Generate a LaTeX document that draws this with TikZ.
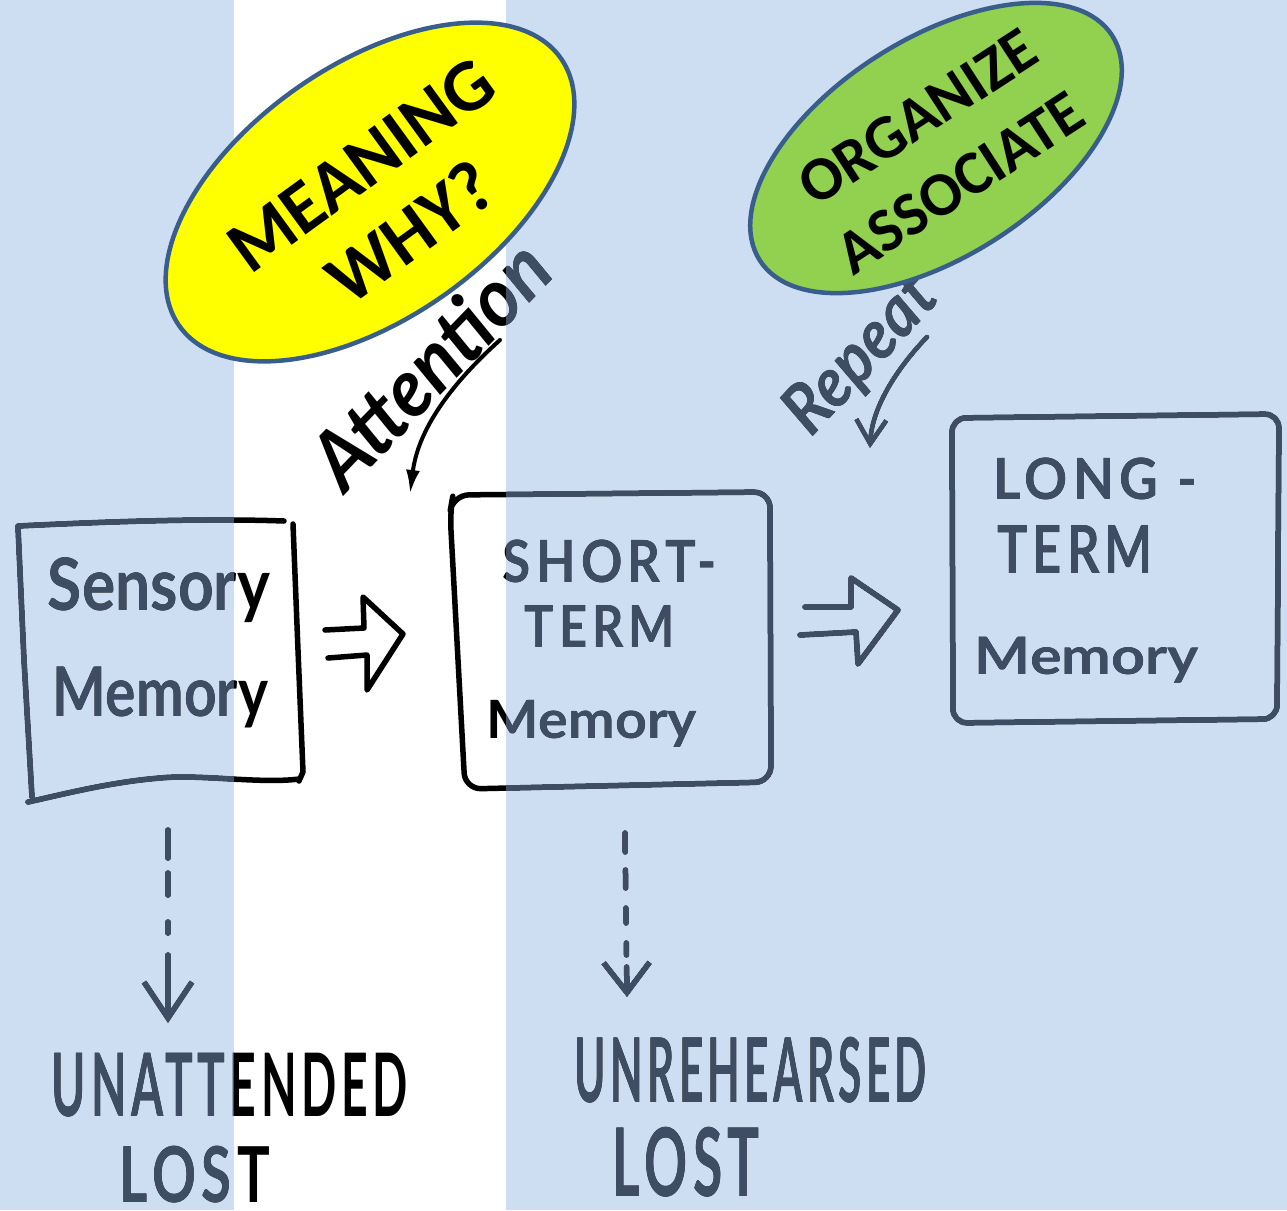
\documentclass[tikz,border=0pt]{standalone}
\usepackage{fontspec}
\usepackage{graphicx}
\usetikzlibrary{shapes.geometric,arrows.meta}
\newfontfamily\hand{Lato}
\newfontfamily\handcaps{Lato}[LetterSpace=10]
\newfontfamily\calib{Carlito}
\definecolor{bgblue}{RGB}{205,222,243}
\definecolor{ink}{RGB}{62,77,99}
\definecolor{eborder}{RGB}{58,94,140}
\definecolor{egreen}{RGB}{146,208,80}
\definecolor{eyellow}{RGB}{255,255,0}
\begin{document}
\begin{tikzpicture}[x=1pt,y=-1pt,
  inkline/.style={line width=5.5pt, line cap=round, line join=round, draw=black},
  hw/.style={inner sep=0pt, font=\hand\bfseries, text=black},
  hwcaps/.style={inner sep=0pt, font=\handcaps\bfseries, text=black},
  bubble/.style={ellipse, draw=eborder, line width=4.5pt, inner sep=0pt},
  bubbletext/.style={inner sep=0pt, align=center, text=black}]
\useasboundingbox (0,0) rectangle (1287,1210);
\fill[bgblue] (0,0) rectangle (1287,1210);
\fill[white] (234,0) rectangle (506,1210);

% ---------- Sensory memory box ----------
\draw[inkline] (18,526) .. controls (100,522) and (200,518) .. (284,521);
\draw[inkline] (293,524) -- (298,650) -- (303,772) -- (299,781);
\draw[inkline] (299,779) .. controls (260,784) and (200,774) .. (160,778)
  .. controls (110,782) and (60,795) .. (28,802);
\draw[inkline] (18,527) -- (24,660) -- (32,797);
\node[hw] (sens1) at (159,590.5) {\resizebox*{222pt}{65pt}{Sensory}};
\node[hw] (sens2) at (160.5,697.5) {\resizebox*{215pt}{61pt}{Memory}};

% ---------- hollow arrow 1 ----------
\draw[inkline] (325,630) -- (364,628) -- (363,597) -- (403,634) -- (367,690) -- (367,655) -- (328,658);

% ---------- Short-term box ----------
\draw[inkline, rounded corners=16] (450,512) -- (453,495) -- (770,492) -- (771,782) -- (465,789) -- cycle;
\node[hwcaps] (stm1) at (610,561.5) {\resizebox*{214pt}{43pt}{SHORT-}};
\node[hwcaps] (stm2) at (600,626) {\resizebox*{150pt}{42pt}{TERM}};
\node[hw] (stm3) at (592,724) {\resizebox*{210pt}{47pt}{Memory}};

% ---------- hollow arrow 2 ----------
\draw[inkline] (805,607) -- (851,607) -- (851,578) -- (898,610) -- (858,664) -- (856,632) -- (800,635);

% ---------- Long-term box ----------
\draw[inkline, rounded corners=14] (952,418) -- (1279,414) -- (1277,719) -- (953,723) -- cycle;
\node[hwcaps] (ltm1) at (1095,479) {\resizebox*{204pt}{42pt}{LONG -}};
\node[hwcaps] (ltm2) at (1075,549) {\resizebox*{156pt}{48pt}{TERM}};
\node[hw] (ltm3) at (1087,660) {\resizebox*{224pt}{46pt}{Memory}};

% ---------- Attention ----------
\node[hw, rotate=46] (att) at (430,364) {\resizebox*{305pt}{61pt}{\itshape Attention}};
\coordinate (attS) at (500,340);
\coordinate (attE) at (410,494);
\draw[inkline, line width=4pt, -{Latex[length=24pt,width=14pt]}] (attS) .. controls (450,385) and (418,430) .. (attE);

% ---------- Repeat ----------
\node[hw, rotate=47] (rep) at (862,356) {\resizebox*{190pt}{62pt}{\itshape Repeat}};
\coordinate (repS) at (927,337);
\coordinate (repE) at (870,448);
\draw[inkline, line width=4.5pt, -{Straight Barb[length=24pt,width=30pt]}] (repS) .. controls (900,365) and (872,405) .. (repE);

% ---------- lost paths ----------
\coordinate (d1s) at (168,830);
\coordinate (d1e) at (168,1023);
\draw[inkline, dash pattern=on 28pt off 15pt on 22pt off 27pt on 11pt off 22pt on 120pt,
  -{Straight Barb[length=36pt,width=48pt]}] (d1s) -- (d1e);
\node[hwcaps] (unatt) at (230,1085) {\resizebox*{356pt}{64pt}{UNATTENDED}};
\node[hwcaps] (lost1) at (195,1175) {\resizebox*{150pt}{57pt}{LOST}};

\coordinate (d2s) at (625,833);
\coordinate (d2e) at (627,997);
\draw[inkline, dash pattern=on 19pt off 18pt on 18pt off 20pt on 15pt off 20pt on 12pt off 12pt on 100pt,
  -{Straight Barb[length=30pt,width=46pt]}] (d2s) -- (d2e);
\node[hwcaps] (unreh) at (751,1070) {\resizebox*{352pt}{66pt}{UNREHEARSED}};
\node[hwcaps] (lost2) at (686.5,1162) {\resizebox*{147pt}{70pt}{LOST}};

% ---------- recolour ink in the blue bands ----------
\begin{scope}[blend mode=lighten]
\fill[ink] (0,0) rectangle (234,1210);
\fill[ink] (506,0) rectangle (1287,1210);
\end{scope}

% ---------- bubbles ----------
\node[bubble, fill=eyellow, minimum width=466pt, minimum height=254pt, rotate=35] (meaning) at (370,192) {};
\node[bubbletext, rotate=36, font={\calib\bfseries\fontsize{74pt}{84pt}\selectfont}] (meaningtxt) at (386,199) {MEANING\\WHY?};
\node[bubble, fill=egreen, minimum width=418pt, minimum height=218pt, rotate=32.5] (organize) at (936,148) {};
\node[bubbletext, rotate=33, font={\calib\bfseries\fontsize{62pt}{78pt}\selectfont}] (organizetxt) at (939,150) {ORGANIZE\\ASSOCIATE};
\end{tikzpicture}
\end{document}
